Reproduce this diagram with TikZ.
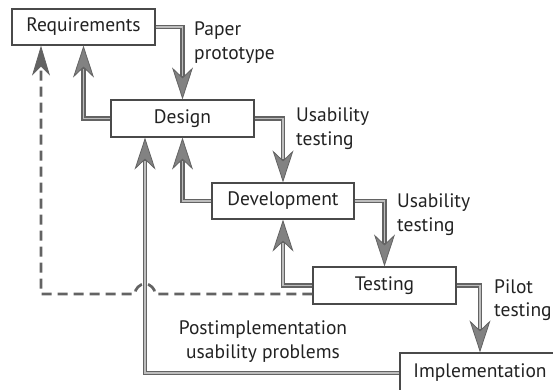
\documentclass[tikz,border=0pt]{standalone}
\usepackage{fontspec}
\setmainfont{PT Sans}
\usetikzlibrary{arrows.meta,calc}
\definecolor{lineg}{HTML}{636363}
\definecolor{innerg}{HTML}{BDBDBD}
\definecolor{arrowg}{HTML}{828282}
\definecolor{darkarrow}{HTML}{626262}
\definecolor{boxg}{HTML}{4A4A4A}
\definecolor{textg}{HTML}{222222}
\begin{document}
\begin{tikzpicture}[x=1pt,y=-1pt,
  box/.style={draw=boxg, line width=1.3pt, fill=white, minimum height=36pt, inner sep=0pt, font=\fontsize{19.5}{23}\selectfont, text=textg},
  lbl/.style={font=\fontsize{19.5}{23.5}\selectfont, text=textg, inner sep=0pt, align=left, anchor=west},
  conn/.style={draw=lineg, line width=4.2pt, -{Stealth[length=32pt,width=21pt,inset=10pt,line width=0.8pt,color=lineg,fill=arrowg]}, postaction={draw=innerg, line width=1.3pt, -, shorten >=23pt}},
  dashconn/.style={draw=lineg, line width=2.7pt, dash pattern=on 10pt off 6pt, -{Stealth[length=30pt,width=18pt,inset=9pt,line width=0.8pt,color=lineg,fill=darkarrow]}}
]
\useasboundingbox (0,0) rectangle (553,389);
\node[box, minimum width=143pt] (req) at (83.5,27) {Requirements};
\node[box, minimum width=143pt, minimum height=37pt] (des) at (182.5,118.5) {Design};
\node[box, minimum width=142pt] (dev) at (283,201) {Development};
\node[box, minimum width=143pt, minimum height=37pt] (test) at (384.5,285.5) {Testing};
\node[box, minimum width=160pt, minimum height=40pt] (impl) at (480,373) {Implementation};

\node[lbl] (l1) at (194,42.5) {Paper\\prototype};
\node[lbl] (l2) at (296,128.5) {Usability\\testing};
\node[lbl] (l3) at (397,214.5) {Usability\\testing};
\node[lbl] (l4) at (494,300) {Pilot\\testing};
\node[lbl, align=center, anchor=center] (l5) at (263,341.5) {Postimplementation\\usability problems};

\draw[conn] (req.east) -| (des.north);
\draw[conn] (des.west) -| (req.south);
\draw[conn] (des.east) -| (dev.north);
\draw[conn] (dev.west) -| (des.south);
\draw[conn] (dev.east) -| (test.north);
\draw[conn] (test.west) -| (dev.south);
\draw[conn] (test.east) -| (impl.north);
\draw[conn] (impl.west) -| ([xshift=-37.5pt]des.south);
\draw[dashconn] ([yshift=-8.5pt]test.west) -- (155,294) arc[start angle=0,end angle=180,radius=10pt] -- (41,294) -- ([xshift=-42.5pt]req.south);
\end{tikzpicture}
\end{document}
